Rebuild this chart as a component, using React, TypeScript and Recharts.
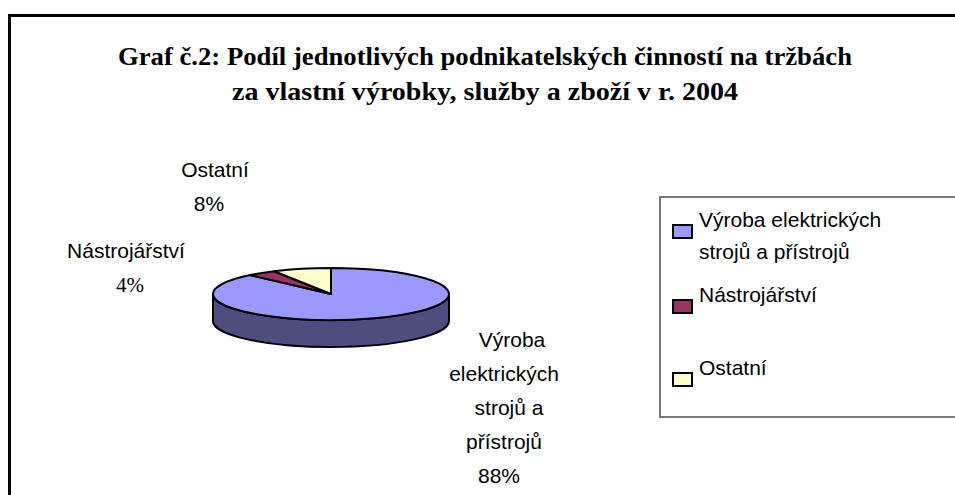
import { Cell, Legend, Pie, PieChart } from "recharts";

const CATEGORIES = ["Výroba elektrických strojů a přístrojů", "Nástrojářství", "Ostatní"];
const SHARES = [88, 4, 8];
const TOP_COLORS = ["#9999FF", "#993366", "#FFFFCC"];
const SIDE_COLORS = ["#4D4D80", "#4D1A33", "#80806A"];
const LABEL_LINES = [["Výroba", "elektrických", "strojů a", "přístrojů"], ["Nástrojářství"], ["Ostatní"]];
const LEGEND_LINES = [["Výroba elektrických", "strojů a přístrojů"], ["Nástrojářství"], ["Ostatní"]];
const TITLE_LINES = [
  "Graf č.2: Podíl jednotlivých podnikatelských činností na tržbách",
  "za vlastní výrobky, služby a zboží v r. 2004",
];

// Excel puts each data label in its own spot; these are the anchors (text centre, first baseline).
const LABEL_ANCHORS = [
  { x: 506, y: 347, dx: [6, -2, 3, -2, -7] },
  { x: 126, y: 258, dx: [0, 4] },
  { x: 215, y: 177, dx: [0, -6] },
];
const LINE_GAP = 34;

const rows = CATEGORIES.map((name, i) => ({ name, value: SHARES[i] }));

const RAD = Math.PI / 180;
const TILT = 26 / 118;
const DEPTH = 27;
const FONT_SIZE = 21;
const SANS = "'Liberation Sans', Arial, sans-serif";
const SERIF = "'Liberation Serif', 'Times New Roman', serif";

function catIndex(p: any) {
  const name = p?.payload?.name ?? p?.name;
  return Math.max(0, CATEGORIES.indexOf(name));
}

// Flattened "3D" slice: elliptical top face plus the visible front wall.
function Slice3D(props: any) {
  const { cx, cy, outerRadius, startAngle, endAngle } = props;
  const i = catIndex(props);
  const rx = outerRadius;
  const ry = outerRadius * TILT;
  const pt = (a: number, dy = 0) =>
    `${cx + rx * Math.cos(a * RAD)},${cy - ry * Math.sin(a * RAD) + dy}`;
  const lo = Math.min(startAngle, endAngle);
  const hi = Math.max(startAngle, endAngle);
  const large = hi - lo > 180 ? 1 : 0;
  const sweep = startAngle > endAngle ? 1 : 0;
  const top = `M${cx},${cy} L${pt(startAngle)} A${rx},${ry} 0 ${large} ${sweep} ${pt(endAngle)} Z`;

  const walls: string[] = [];
  for (let k = -2; k <= 1; k++) {
    const a1 = Math.max(lo, 180 + 360 * k);
    const a2 = Math.min(hi, 360 + 360 * k);
    if (a2 - a1 > 0.01) {
      walls.push(
        `M${pt(a2)} A${rx},${ry} 0 0 1 ${pt(a1)} L${pt(a1, DEPTH)} A${rx},${ry} 0 0 0 ${pt(a2, DEPTH)} Z`
      );
    }
  }

  return (
    <g>
      {walls.map((d, j) => (
        <path key={j} d={d} fill={SIDE_COLORS[i]} stroke="#000" strokeWidth={2} strokeLinejoin="round" />
      ))}
      <path d={top} fill={TOP_COLORS[i]} stroke="#000" strokeWidth={2} strokeLinejoin="round" />
    </g>
  );
}

function renderLabel(props: any) {
  const i = catIndex(props);
  const a = LABEL_ANCHORS[i];
  const pct = `${Math.round(props.percent * 100)}%`;
  const lines = [...LABEL_LINES[i], pct];
  return (
    <text textAnchor="middle" fontSize={FONT_SIZE} fill="#000" fontFamily={SANS}>
      {lines.map((s, j) => (
        <tspan
          key={j}
          x={a.x + (a.dx[j] ?? 0)}
          y={a.y + j * LINE_GAP}
          fontFamily={i === 1 && j === lines.length - 1 ? SERIF : SANS}
        >
          {s}
        </tspan>
      ))}
    </text>
  );
}

function LegendBox() {
  let y = 29;
  const items = LEGEND_LINES.map((lines, i) => {
    const baseline = y;
    y += i === 0 ? 75 : 73;
    return (
      <g key={i}>
        <rect x={12} y={baseline - 2} width={19} height={13} fill={TOP_COLORS[i]} stroke="#000" strokeWidth={2} />
        {lines.map((s, j) => (
          <text key={j} x={38} y={baseline + j * 32} fontSize={FONT_SIZE} fontFamily={SANS} fill="#000">
            {s}
          </text>
        ))}
      </g>
    );
  });
  return (
    <svg width={310} height={222} style={{ display: "block" }}>
      {items}
    </svg>
  );
}

export default function App() {
  return (
    <div
      style={{
        position: "fixed",
        left: 0,
        top: 0,
        width: 955,
        height: 495,
        overflow: "hidden",
        background: "#fff",
      }}
    >
      <svg width={955} height={495} style={{ position: "absolute", left: 0, top: 0 }}>
        <rect x={9.5} y={15.5} width={1200} height={800} fill="none" stroke="#000" strokeWidth={3} />
        {TITLE_LINES.map((t, j) => (
          <text
            key={j}
            x={485}
            y={65 + j * 35}
            textAnchor="middle"
            fontFamily={SERIF}
            fontWeight="bold"
            fontSize={25}
            textLength={j === 0 ? 734 : 506}
            lengthAdjust="spacingAndGlyphs"
          >
            {t}
          </text>
        ))}
      </svg>
      <div style={{ position: "absolute", left: 0, top: 0 }}>
        <PieChart width={955} height={495} margin={{ top: 0, right: 0, bottom: 0, left: 0 }}>
          <Pie
            data={rows}
            dataKey="value"
            nameKey="name"
            cx={331}
            cy={294}
            outerRadius={118}
            startAngle={90}
            endAngle={-270}
            shape={Slice3D}
            label={renderLabel}
            labelLine={false}
            isAnimationActive={false}
          >
            {rows.map((r, i) => (
              <Cell key={r.name} fill={TOP_COLORS[i]} />
            ))}
          </Pie>
          <Legend
            layout="vertical"
            content={() => <LegendBox />}
            wrapperStyle={{
              position: "absolute",
              left: 659,
              top: 196,
              width: 310,
              height: 222,
              border: "2px solid #7a7a7a",
              boxSizing: "border-box",
              background: "#fff",
            }}
          />
        </PieChart>
      </div>
    </div>
  );
}
